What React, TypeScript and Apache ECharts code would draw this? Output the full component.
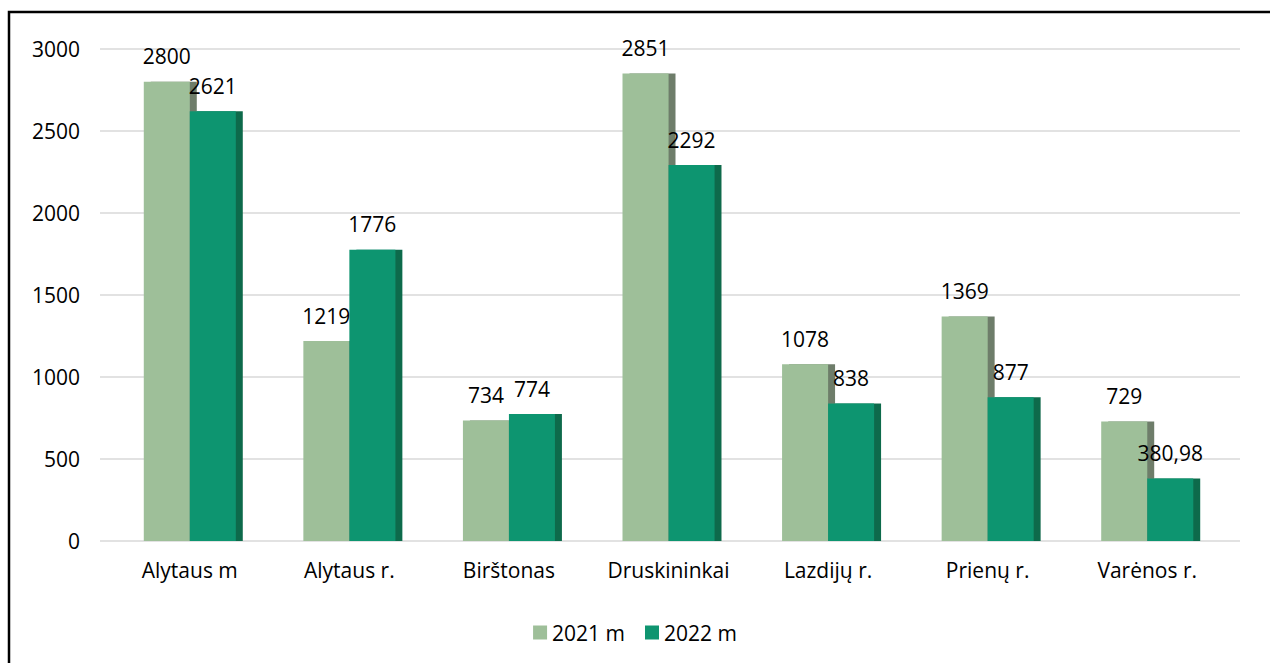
import React, { useEffect, useRef } from "react";
import * as echarts from "echarts";

const categories = ["Alytaus m", "Alytaus r.", "Birštonas", "Druskininkai", "Lazdijų r.", "Prienų r.", "Varėnos r."];
const values2021 = [2800, 1219, 734, 2851, 1078, 1369, 729];
const values2022 = [2621, 1776, 774, 2292, 838, 877, 380.98];
const seriesNames = ["2021 m", "2022 m"];
const yTicks = { min: 0, max: 3000, interval: 500 };

const FONT = "Open Sans";
const FS = 21;
const fmt = (v: number) => String(v).replace(".", ",");

export default function App() {
  const ref = useRef<HTMLDivElement>(null);
  useEffect(() => {
    document.body.style.margin = "0";
    const chart = echarts.init(ref.current!, null, { renderer: "svg" });
    const label = {
      show: true,
      position: "top" as const,
      distance: 15,
      color: "#000",
      fontFamily: FONT,
      fontSize: FS,
      formatter: (p: any) => fmt(p.value),
    };
    chart.setOption({
      animation: false,
      backgroundColor: "#fff",
      textStyle: { fontFamily: FONT },
      grid: [
        { left: 110, right: 43, top: 49, bottom: 122, containLabel: false },
        { left: 100, right: 30, top: 49, bottom: 122, containLabel: false },
      ],
      legend: {
        bottom: 15,
        left: "center",
        itemWidth: 14,
        itemHeight: 14,
        itemGap: 20,
        icon: "rect",
        textStyle: { fontFamily: FONT, fontSize: FS, color: "#000" },
        data: seriesNames,
      },
      xAxis: [
        {
          type: "category",
          gridIndex: 0,
          data: categories,
          axisTick: { show: false },
          axisLine: { show: false },
          axisLabel: { color: "#000", fontFamily: FONT, fontSize: FS, margin: 18 },
        },
        { type: "value", gridIndex: 1, min: 0, max: 1, show: false },
      ],
      yAxis: [
        {
          type: "value",
          gridIndex: 0,
          min: yTicks.min,
          max: yTicks.max,
          interval: yTicks.interval,
          axisLine: { show: false },
          axisTick: { show: false },
          splitLine: { show: false },
          axisLabel: { show: false },
        },
        {
          type: "value",
          gridIndex: 1,
          min: yTicks.min,
          max: yTicks.max,
          interval: yTicks.interval,
          axisLine: { show: false },
          axisTick: { show: false },
          splitLine: { lineStyle: { color: "#d9d9d9", width: 1.5 } },
          axisLabel: {
            color: "#000",
            fontFamily: FONT,
            fontSize: FS,
            margin: 20,
            formatter: (v: number) => String(v),
          },
        },
      ],
      graphic: [
        {
          type: "rect",
          shape: { x: 9, y: 12, width: 1400, height: 800 },
          style: { fill: "none", stroke: "#000", lineWidth: 2.5 },
          silent: true,
          z: 100,
        },
      ],
      series: [
        {
          name: seriesNames[0],
          type: "bar",
          xAxisIndex: 0,
          yAxisIndex: 0,
          data: values2021,
          barWidth: 46,
          barGap: "0%",
          itemStyle: {
            color: "#9ebf99",
            shadowColor: "#6e7d6b",
            shadowBlur: 0,
            shadowOffsetX: 7,
            shadowOffsetY: 0,
          },
          label,
        },
        {
          name: seriesNames[1],
          type: "bar",
          xAxisIndex: 0,
          yAxisIndex: 0,
          data: values2022,
          barWidth: 46,
          barGap: "0%",
          itemStyle: {
            color: "#0f9570",
            shadowColor: "#0b6a4c",
            shadowBlur: 0,
            shadowOffsetX: 7,
            shadowOffsetY: 0,
          },
          label,
        },
      ],
    });
    return () => chart.dispose();
  }, []);
  return <div ref={ref} style={{ width: 1270, height: 663 }} />;
}
